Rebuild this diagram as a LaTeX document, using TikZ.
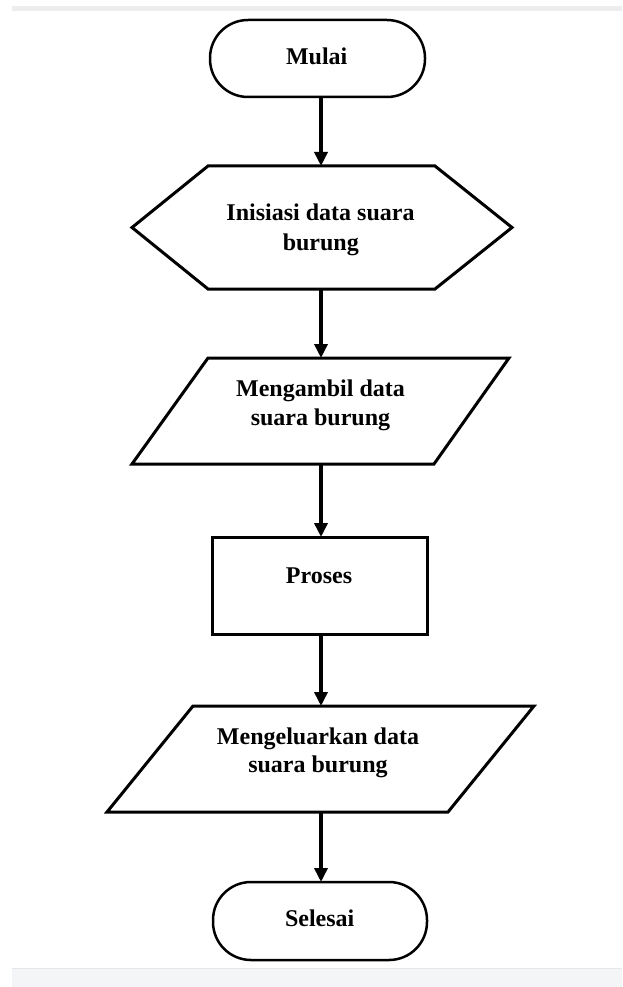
\documentclass[tikz,border=0pt]{standalone}
\usepackage{fontspec}
\setmainfont{Liberation Serif}
\usetikzlibrary{arrows.meta}
\definecolor{bandtop}{HTML}{ECEDEF}
\definecolor{bandbot}{HTML}{F4F5F7}
\definecolor{bandline}{HTML}{E6E7EA}
\begin{document}
\begin{tikzpicture}[x=1pt,y=-1pt,
  shapebox/.style={draw=none, inner sep=0pt, outer sep=0pt},
  outline/.style={draw=black, line width=3pt, line join=miter},
  lbl/.style={font=\fontsize{24}{29}\selectfont\bfseries, anchor=base, inner sep=0pt},
  arr/.style={line width=3.5pt, -{Triangle[width=13pt,length=14pt]}}]
\useasboundingbox (0,0) rectangle (622,987);
\fill[white] (0,0) rectangle (622,987);
\fill[bandtop] (12,6) rectangle (622,11);
\fill[bandbot] (12,968) rectangle (622,987);
\draw[bandline, line width=1pt] (12,968.5) -- (622,968.5);

% shapes
\node[shapebox, minimum width=215pt, minimum height=77pt] (mulai) at (317.5,58.5) {};
\draw[outline, line width=2.5pt, rounded corners=38pt] (mulai.north west) rectangle (mulai.south east);

\node[shapebox, minimum width=380pt, minimum height=123pt] (init) at (322,227.5) {};
\draw[outline] (init.west) -- ([xshift=76pt]init.north west) -- ([xshift=-77pt]init.north east)
  -- (init.east) -- ([xshift=-77pt]init.south east) -- ([xshift=76pt]init.south west) -- cycle;

\node[shapebox, minimum width=377pt, minimum height=106pt] (ambil) at (320.5,411) {};
\draw[outline] ([xshift=76pt]ambil.north west) -- (ambil.north east)
  -- ([xshift=-75pt]ambil.south east) -- (ambil.south west) -- cycle;

\node[shapebox, minimum width=215pt, minimum height=97pt] (proses) at (319.5,585.5) {};
\draw[outline] (proses.north west) rectangle (proses.south east);

\node[shapebox, minimum width=427pt, minimum height=106pt] (keluar) at (320.5,759) {};
\draw[outline] ([xshift=86pt]keluar.north west) -- (keluar.north east)
  -- ([xshift=-86pt]keluar.south east) -- (keluar.south west) -- cycle;

\node[shapebox, minimum width=214pt, minimum height=78pt] (selesai) at (320,921) {};
\draw[outline, line width=2.5pt, rounded corners=38pt] (selesai.north west) rectangle (selesai.south east);

% texts
\node[lbl] (tMulai) at (316.7,65) {Mulai};
\node[lbl] (tInitA) at (320.5,220) {Inisiasi data suara};
\node[lbl] (tInitB) at (320.8,250) {burung};
\node[lbl] (tAmbilA) at (320.5,396.7) {Mengambil data};
\node[lbl] (tAmbilB) at (320.5,425.7) {suara burung};
\node[lbl] (tProses) at (319,583) {Proses};
\node[lbl] (tKeluarA) at (318,744.3) {Mengeluarkan data};
\node[lbl] (tKeluarB) at (318,772.7) {suara burung};
\node[lbl] (tSelesai) at (319.7,926.7) {Selesai};

% connectors
\coordinate (axis) at (321,0);
\draw[arr] (mulai.south -| axis) -- (init.north -| axis);
\draw[arr] (init.south -| axis) -- (ambil.north -| axis);
\draw[arr] (ambil.south -| axis) -- (proses.north -| axis);
\draw[arr] (proses.south -| axis) -- (keluar.north -| axis);
\draw[arr] (keluar.south -| axis) -- (selesai.north -| axis);
\end{tikzpicture}
\end{document}
